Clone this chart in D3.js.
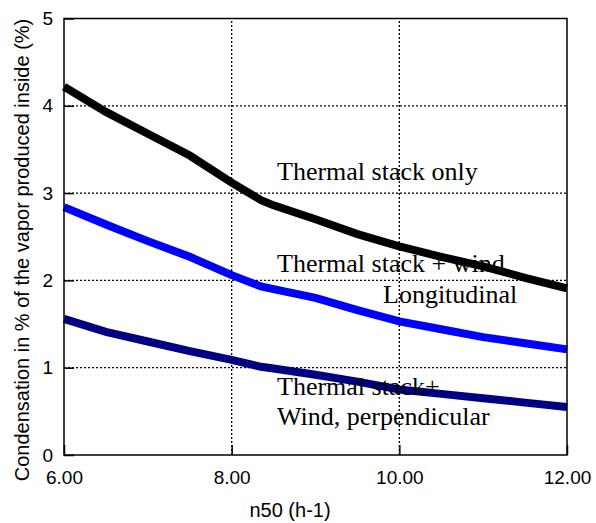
<!DOCTYPE html>
<html>
<head>
<meta charset="utf-8">
<script src="https://cdn.jsdelivr.net/npm/d3@7"></script>
<style>
  body { margin: 0; background: #fff; }
  svg { display: block; }
</style>
</head>
<body>
<svg id="chart"></svg>
<script>
var w = 596, h = 523;
var margin = {top: 18.5, right: 29, bottom: 68, left: 64};

// data
var n50 = [6, 6.5, 7, 7.5, 8, 8.35, 8.5, 9, 9.5, 10, 10.5, 11, 11.5, 12];
var stackOnly = [4.22, 3.93, 3.68, 3.43, 3.12, 2.92, 2.86, 2.70, 2.53, 2.39, 2.27, 2.16, 2.03, 1.91];
var stackWindLong = [2.84, 2.64, 2.45, 2.27, 2.06, 1.93, 1.90, 1.80, 1.66, 1.53, 1.44, 1.35, 1.28, 1.21];
var stackWindPerp = [1.56, 1.41, 1.30, 1.19, 1.09, 1.01, 0.99, 0.92, 0.84, 0.75, 0.70, 0.65, 0.60, 0.55];
var seriesColors = ["#000000", "#0000ff", "#000080"];
var xTicks = [6, 8, 10, 12];
var yTicks = [0, 1, 2, 3, 4, 5];

var svg = d3.select("#chart")
    .attr("width", w)
    .attr("height", h);

var x = d3.scaleLinear().domain([6, 12]).range([margin.left, w - margin.right]);
var y = d3.scaleLinear().domain([0, 5]).range([h - margin.bottom, margin.top]);

// dotted grid
svg.append("g").selectAll("line")
    .data(yTicks.slice(1, 5))
    .enter().append("line")
    .attr("x1", x(6)).attr("x2", x(12))
    .attr("y1", function(d){ return y(d); })
    .attr("y2", function(d){ return y(d); })
    .style("stroke", "#000")
    .style("stroke-width", 1.3)
    .style("stroke-dasharray", "2,2");

svg.append("g").selectAll("line")
    .data(xTicks.slice(1, 3))
    .enter().append("line")
    .attr("y1", y(0)).attr("y2", y(5))
    .attr("x1", function(d){ return x(d); })
    .attr("x2", function(d){ return x(d); })
    .style("stroke", "#000")
    .style("stroke-width", 1.3)
    .style("stroke-dasharray", "2,2");

// curves
var line = d3.line()
    .x(function(d){ return x(d[0]); })
    .y(function(d){ return y(d[1]); });

[stackOnly, stackWindLong, stackWindPerp].forEach(function(s, i){
    svg.append("path")
        .datum(n50.map(function(v, j){ return [v, s[j]]; }))
        .attr("d", line)
        .style("fill", "none")
        .style("stroke", seriesColors[i])
        .style("stroke-width", 8);
});

// frame
svg.append("rect")
    .attr("x", x(6)).attr("y", y(5))
    .attr("width", x(12) - x(6))
    .attr("height", y(0) - y(5))
    .style("fill", "none")
    .style("stroke", "#000")
    .style("stroke-width", 1.5);

// axes with inward ticks
var yAxis = svg.append("g")
    .attr("transform", "translate(" + x(6) + ",0)")
    .call(d3.axisLeft(y).tickValues(yTicks).tickSize(-10).tickPadding(20).tickFormat(d3.format("d")));
var xAxis = svg.append("g")
    .attr("transform", "translate(0," + y(0) + ")")
    .call(d3.axisBottom(x).tickValues(xTicks).tickSize(-10).tickPadding(20).tickFormat(d3.format(".2f")));

[yAxis, xAxis].forEach(function(a){
    a.select(".domain").remove();
    a.selectAll("line").style("stroke", "#000").style("stroke-width", 1.5);
    a.selectAll("text")
        .style("font-family", "'Liberation Sans', Arial, sans-serif")
        .style("font-size", "19px")
        .style("fill", "#000");
});
yAxis.selectAll("text").attr("x", -11);
xAxis.selectAll("text").attr("y", 16);

// axis titles
svg.append("text")
    .attr("x", 290).attr("y", 517)
    .attr("text-anchor", "middle")
    .style("font-family", "'Liberation Sans', Arial, sans-serif")
    .style("font-size", "20px")
    .text("n50 (h-1)");

svg.append("text")
    .attr("transform", "translate(29,250) rotate(-90)")
    .attr("text-anchor", "middle")
    .style("font-family", "'Liberation Sans', Arial, sans-serif")
    .style("font-size", "20px")
    .text("Condensation in % of the vapor produced inside (%)");

// curve labels
var labels = [
    {t: "Thermal stack only", x: 277, y: 180},
    {t: "Thermal stack + wind", x: 277, y: 272},
    {t: "Longitudinal", x: 383, y: 303},
    {t: "Thermal stack+", x: 277, y: 395},
    {t: "Wind, perpendicular", x: 277, y: 425}
];
svg.append("g").selectAll("text")
    .data(labels)
    .enter().append("text")
    .attr("x", function(d){ return d.x; })
    .attr("y", function(d){ return d.y; })
    .style("font-family", "'Liberation Serif', 'Times New Roman', serif")
    .style("font-size", "26px")
    .style("fill", "#000")
    .text(function(d){ return d.t; });
</script>
</body>
</html>
